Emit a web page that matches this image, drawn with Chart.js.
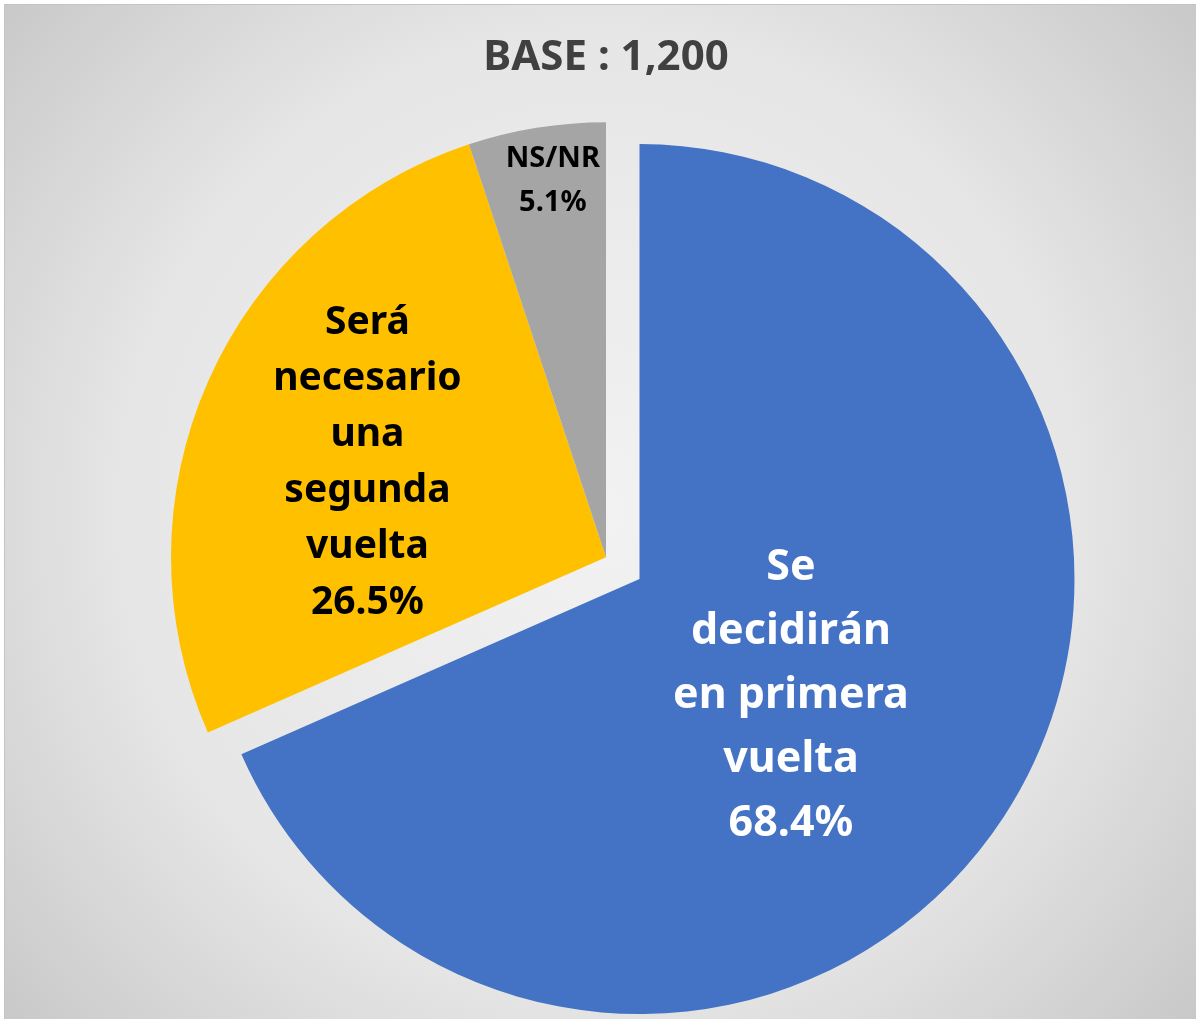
<!DOCTYPE html>
<html>
<head>
<meta charset="utf-8">
<script src="https://cdn.jsdelivr.net/npm/chart.js@4.4.0/dist/chart.umd.min.js"></script>
<style>
  html, body { margin: 0; padding: 0; background: #ffffff; }
  #wrap { width: 1196px; height: 1019px; }
</style>
</head>
<body>
<div id="wrap"><canvas id="myChart" width="1196" height="1019"></canvas></div>
<script>
// data
var categories = [
  ['Se', 'decidirán', 'en primera', 'vuelta'],
  ['Será', 'necesario', 'una', 'segunda', 'vuelta'],
  ['NS/NR']
];
var values = [68.4, 26.5, 5.1];
var percentLabels = ['68.4%', '26.5%', '5.1%'];
var sliceColors = ['#4472C4', '#FFC000', '#A5A5A5'];
var titleText = 'BASE : 1,200';

// label styling per slice (position along radius, small angle nudge, font)
var labelStyle = [
  { frac: 0.44, nudge: 0.08, size: 43, lineH: 64, color: '#ffffff' },
  { frac: 0.59, nudge: -0.04, size: 39, lineH: 56, color: '#000000' },
  { frac: 0.875, nudge: 0.02, size: 29, lineH: 44, color: '#000000' }
];

var fontFamily = '"Noto Sans", "DejaVu Sans", sans-serif';

// gradient background + thin border
var bgPlugin = {
  id: 'bg',
  beforeDraw: function (chart) {
    var ctx = chart.ctx;
    var w = chart.width, h = chart.height;
    ctx.save();
    ctx.fillStyle = '#ffffff';
    ctx.fillRect(0, 0, w, h);
    var g = ctx.createRadialGradient(598, 510, 0, 598, 510, 790);
    g.addColorStop(0, '#f2f2f2');
    g.addColorStop(0.6, '#e6e6e6');
    g.addColorStop(1, '#c8c8c8');
    ctx.fillStyle = g;
    ctx.fillRect(4, 4, w - 4, h - 4);
    ctx.strokeStyle = '#c4c4c4';
    ctx.lineWidth = 1;
    ctx.beginPath();
    ctx.moveTo(4.5, h);
    ctx.lineTo(4.5, 4.5);
    ctx.lineTo(w, 4.5);
    ctx.stroke();
    ctx.restore();
  }
};

// keep exploded slice at same radius / same edges as the others
var explodeFix = {
  id: 'explodeFix',
  afterDatasetsUpdate: function (chart) {
    var meta = chart.getDatasetMeta(0);
    var R = meta.controller.outerRadius;
    meta.data.forEach(function (arc) {
      var off = (arc.options.offset || 0) / 4;
      if (!off) return;
      var fix = 1 - Math.sin(Math.min(Math.PI, arc.circumference));
      var grow = off * fix;
      arc.outerRadius = R - grow;
      // chart.js trims the arc ends a little when offset is used, undo it
      var trim = grow / (2 * Math.PI * R);
      arc.startAngle -= trim;
      arc.endAngle += trim;
    });
  }
};

// text inside slices
var sliceLabels = {
  id: 'sliceLabels',
  afterDatasetsDraw: function (chart) {
    var ctx = chart.ctx;
    var meta = chart.getDatasetMeta(0);
    var R = meta.controller.outerRadius;
    meta.data.forEach(function (arc, i) {
      var st = labelStyle[i];
      var mid = (arc.startAngle + arc.endAngle) / 2;
      var shift = (arc.options.offset || 0) / 4;
      var cx0 = arc.x + Math.cos(mid) * shift;
      var cy0 = arc.y + Math.sin(mid) * shift;
      var a = mid + st.nudge;
      var cx = cx0 + Math.cos(a) * st.frac * R;
      var cy = cy0 + Math.sin(a) * st.frac * R;
      var lines = categories[i].concat([percentLabels[i]]);
      ctx.save();
      ctx.font = 'bold ' + st.size + 'px ' + fontFamily;
      ctx.fillStyle = st.color;
      ctx.textAlign = 'center';
      ctx.textBaseline = 'middle';
      var top = cy - (lines.length - 1) * st.lineH / 2;
      lines.forEach(function (t, k) {
        ctx.fillText(t, cx, top + k * st.lineH);
      });
      ctx.restore();
    });
  }
};

var ctx = document.getElementById('myChart');

var myChart = new Chart(ctx, {
  type: 'pie',
  data: {
    labels: categories,
    datasets: [
      {
        data: values,
        backgroundColor: sliceColors,
        borderWidth: 0,
        offset: [160, 0, 0]
      }
    ]
  },
  options: {
    responsive: false,
    animation: false,
    radius: 435,
    layout: {
      padding: { top: 10, bottom: 8, left: 20, right: 4 }
    },
    plugins: {
      legend: { display: false },
      tooltip: { enabled: false },
      title: {
        display: true,
        text: titleText,
        color: '#404040',
        font: { family: fontFamily, size: 42, weight: 'bold' },
        padding: { top: 23, bottom: 20 }
      }
    }
  },
  plugins: [bgPlugin, explodeFix, sliceLabels]
});
</script>
</body>
</html>
